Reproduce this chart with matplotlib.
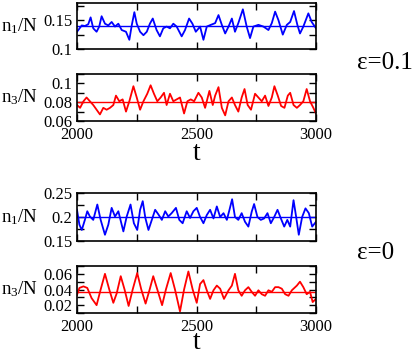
import matplotlib
matplotlib.use('Agg')
import matplotlib.pyplot as plt
from matplotlib.ticker import MultipleLocator, FormatStrFormatter

plt.rcParams['font.family'] = ['Liberation Serif', 'DejaVu Serif']
plt.rcParams['mathtext.fontset'] = 'custom'
plt.rcParams['mathtext.rm'] = 'Liberation Serif'
plt.rcParams['mathtext.it'] = 'Liberation Serif:italic'

# eps = 0.1, n1/N
t_n1_a = [2000, 2020, 2033, 2047, 2057, 2068, 2082, 2093, 2103, 2117, 2131, 2145, 2159, 2173, 2187,
          2205, 2219, 2229, 2240, 2250, 2264, 2278, 2292, 2305, 2317, 2333, 2347, 2361, 2375, 2389,
          2403, 2417, 2438, 2452, 2469, 2483, 2497, 2515, 2529, 2543, 2560, 2578, 2592, 2606, 2620,
          2634, 2648, 2661, 2675, 2694, 2710, 2724, 2738, 2759, 2780, 2801, 2815, 2829, 2843, 2861,
          2878, 2892, 2908, 2922, 2933, 2947, 2968, 2982, 3000]
n1_a = [0.130, 0.141, 0.140, 0.143, 0.155, 0.136, 0.130, 0.139, 0.157, 0.144, 0.141, 0.147, 0.139, 0.144, 0.133,
        0.130, 0.116, 0.141, 0.164, 0.144, 0.130, 0.124, 0.130, 0.144, 0.153, 0.133, 0.122, 0.136, 0.139, 0.136,
        0.144, 0.139, 0.122, 0.133, 0.153, 0.144, 0.130, 0.139, 0.116, 0.139, 0.142, 0.145, 0.159, 0.142, 0.127,
        0.139, 0.153, 0.130, 0.145, 0.169, 0.139, 0.119, 0.139, 0.142, 0.139, 0.133, 0.145, 0.165, 0.150, 0.125,
        0.142, 0.147, 0.166, 0.142, 0.127, 0.139, 0.162, 0.147, 0.136]
mean_n1_a = 0.14

# eps = 0.1, n3/N
t_n3_a = [2000, 2013, 2027, 2040, 2054, 2068, 2082, 2096, 2110, 2124, 2138, 2152, 2163, 2177, 2191,
          2205, 2219, 2236, 2250, 2264, 2278, 2294, 2308, 2322, 2336, 2350, 2364, 2375, 2389, 2403,
          2417, 2431, 2448, 2462, 2476, 2490, 2508, 2522, 2536, 2554, 2568, 2578, 2592, 2606, 2620,
          2634, 2648, 2661, 2675, 2689, 2701, 2714, 2728, 2745, 2759, 2773, 2787, 2801, 2815, 2826,
          2840, 2854, 2868, 2882, 2892, 2906, 2920, 2933, 2947, 2961, 2975, 2989, 3000]
n3_a = [0.077, 0.074, 0.081, 0.085, 0.081, 0.077, 0.072, 0.067, 0.074, 0.072, 0.074, 0.077, 0.087, 0.081, 0.083,
        0.070, 0.081, 0.097, 0.085, 0.072, 0.081, 0.089, 0.098, 0.089, 0.081, 0.085, 0.090, 0.077, 0.089, 0.081,
        0.083, 0.085, 0.068, 0.081, 0.083, 0.081, 0.090, 0.085, 0.074, 0.092, 0.077, 0.087, 0.096, 0.074, 0.066,
        0.081, 0.085, 0.077, 0.070, 0.085, 0.094, 0.077, 0.072, 0.089, 0.085, 0.081, 0.087, 0.076, 0.085, 0.097,
        0.087, 0.076, 0.074, 0.087, 0.090, 0.077, 0.074, 0.077, 0.081, 0.094, 0.081, 0.074, 0.068]
mean_n3_a = 0.08

# eps = 0, n1/N
t_n1_b = [2000, 2010, 2020, 2033, 2043, 2054, 2068, 2085, 2099, 2117, 2131, 2145, 2159, 2173, 2194,
          2208, 2224, 2238, 2252, 2264, 2275, 2286, 2299, 2313, 2327, 2341, 2355, 2369, 2382, 2396,
          2414, 2428, 2442, 2459, 2473, 2487, 2501, 2515, 2529, 2543, 2557, 2571, 2585, 2599, 2613,
          2627, 2638, 2649, 2661, 2675, 2689, 2703, 2717, 2731, 2741, 2755, 2769, 2783, 2797, 2811,
          2825, 2839, 2853, 2867, 2880, 2892, 2906, 2917, 2928, 2942, 2956, 2970, 2984, 3000]
n1_b = [0.215, 0.184, 0.173, 0.194, 0.212, 0.201, 0.194, 0.226, 0.194, 0.163, 0.184, 0.219, 0.201, 0.212, 0.170,
        0.201, 0.226, 0.187, 0.173, 0.215, 0.233, 0.198, 0.173, 0.194, 0.215, 0.205, 0.194, 0.212, 0.201, 0.208,
        0.219, 0.194, 0.187, 0.212, 0.198, 0.212, 0.219, 0.200, 0.187, 0.204, 0.215, 0.197, 0.222, 0.200, 0.208,
        0.194, 0.215, 0.237, 0.200, 0.194, 0.208, 0.190, 0.180, 0.211, 0.227, 0.200, 0.194, 0.197, 0.208, 0.187,
        0.200, 0.215, 0.197, 0.180, 0.194, 0.180, 0.235, 0.200, 0.163, 0.200, 0.218, 0.208, 0.180, 0.190]
mean_n1_b = 0.2

# eps = 0, n3/N
t_n3_b = [2000, 2010, 2027, 2043, 2061, 2082, 2099, 2117, 2135, 2152, 2166, 2183, 2199, 2216, 2233,
          2252, 2269, 2287, 2304, 2319, 2336, 2356, 2372, 2392, 2410, 2431, 2448, 2466, 2484, 2501,
          2515, 2529, 2543, 2557, 2571, 2585, 2599, 2615, 2634, 2648, 2661, 2675, 2689, 2703, 2717,
          2731, 2745, 2759, 2773, 2787, 2801, 2815, 2829, 2843, 2857, 2871, 2885, 2899, 2920, 2933,
          2947, 2961, 2975, 2986, 3000]
n3_b = [0.033, 0.042, 0.044, 0.042, 0.029, 0.020, 0.040, 0.060, 0.040, 0.023, 0.035, 0.057, 0.040, 0.019, 0.040,
        0.061, 0.040, 0.022, 0.040, 0.057, 0.040, 0.020, 0.040, 0.061, 0.040, 0.012, 0.040, 0.063, 0.040, 0.023,
        0.047, 0.052, 0.039, 0.028, 0.039, 0.045, 0.041, 0.028, 0.039, 0.045, 0.060, 0.039, 0.032, 0.039, 0.043,
        0.037, 0.032, 0.039, 0.034, 0.032, 0.039, 0.037, 0.043, 0.043, 0.041, 0.034, 0.032, 0.039, 0.045, 0.050,
        0.043, 0.034, 0.037, 0.024, 0.028]
mean_n3_b = 0.037

W, H = 415, 352
fig = plt.figure(figsize=(W / 100, H / 100), dpi=100)


def add_panel(top, bottom, t, y, mean, colour, ylim, major, minor, label, xlabels):
    ax = fig.add_axes([77 / W, 1 - bottom / H, 239 / W, (bottom - top) / H])
    ax.plot(t, y, c=colour, lw=1.3)
    ax.axhline(mean, c=colour, lw=1.0)
    ax.set_xlim(2000, 3000)
    ax.set_ylim(*ylim)
    ax.xaxis.set_major_locator(MultipleLocator(500))
    ax.xaxis.set_minor_locator(MultipleLocator(250))
    ax.yaxis.set_major_locator(MultipleLocator(major))
    ax.yaxis.set_minor_locator(MultipleLocator(minor))
    ax.yaxis.set_major_formatter(FormatStrFormatter('%g'))
    ax.tick_params(which='both', direction='in', top=True, right=True, labelsize=12, width=1.0, length=5)
    ax.tick_params(axis='y', pad=3.5)
    ax.tick_params(axis='x', pad=4)
    if not xlabels:
        ax.set_xticklabels([])
    for s in ax.spines.values():
        s.set_linewidth(1.2)
    fig.text(38 / W, 1 - (top + bottom) / 2 / H, label, fontsize=13.5, ha='right', va='center')
    return ax


ax1 = add_panel(3, 49, t_n1_a, n1_a, mean_n1_a, 'blue', (0.1, 0.18), 0.05, 0.025, r'$\mathrm{n_1/N}$', False)
ax2 = add_panel(74, 121, t_n3_a, n3_a, mean_n3_a, 'red', (0.06, 0.11), 0.02, 0.01, r'$\mathrm{n_3/N}$', True)
ax3 = add_panel(193, 241, t_n1_b, n1_b, mean_n1_b, 'blue', (0.15, 0.25), 0.05, 0.025, r'$\mathrm{n_1/N}$', False)
ax4 = add_panel(266, 313, t_n3_b, n3_b, mean_n3_b, 'red', (0.01, 0.07), 0.02, 0.01, r'$\mathrm{n_3/N}$', True)

fig.text(197 / W, 1 - 159.5 / H, 't', fontsize=20, ha='center', va='baseline')
fig.text(197 / W, 1 - 349 / H, 't', fontsize=20, ha='center', va='baseline')
fig.text(357 / W, 1 - 63 / H, 'ε=0.1', fontsize=18, ha='left', va='center')
fig.text(357 / W, 1 - 253 / H, 'ε=0', fontsize=18, ha='left', va='center')

fig.savefig('out.png', dpi=100)
